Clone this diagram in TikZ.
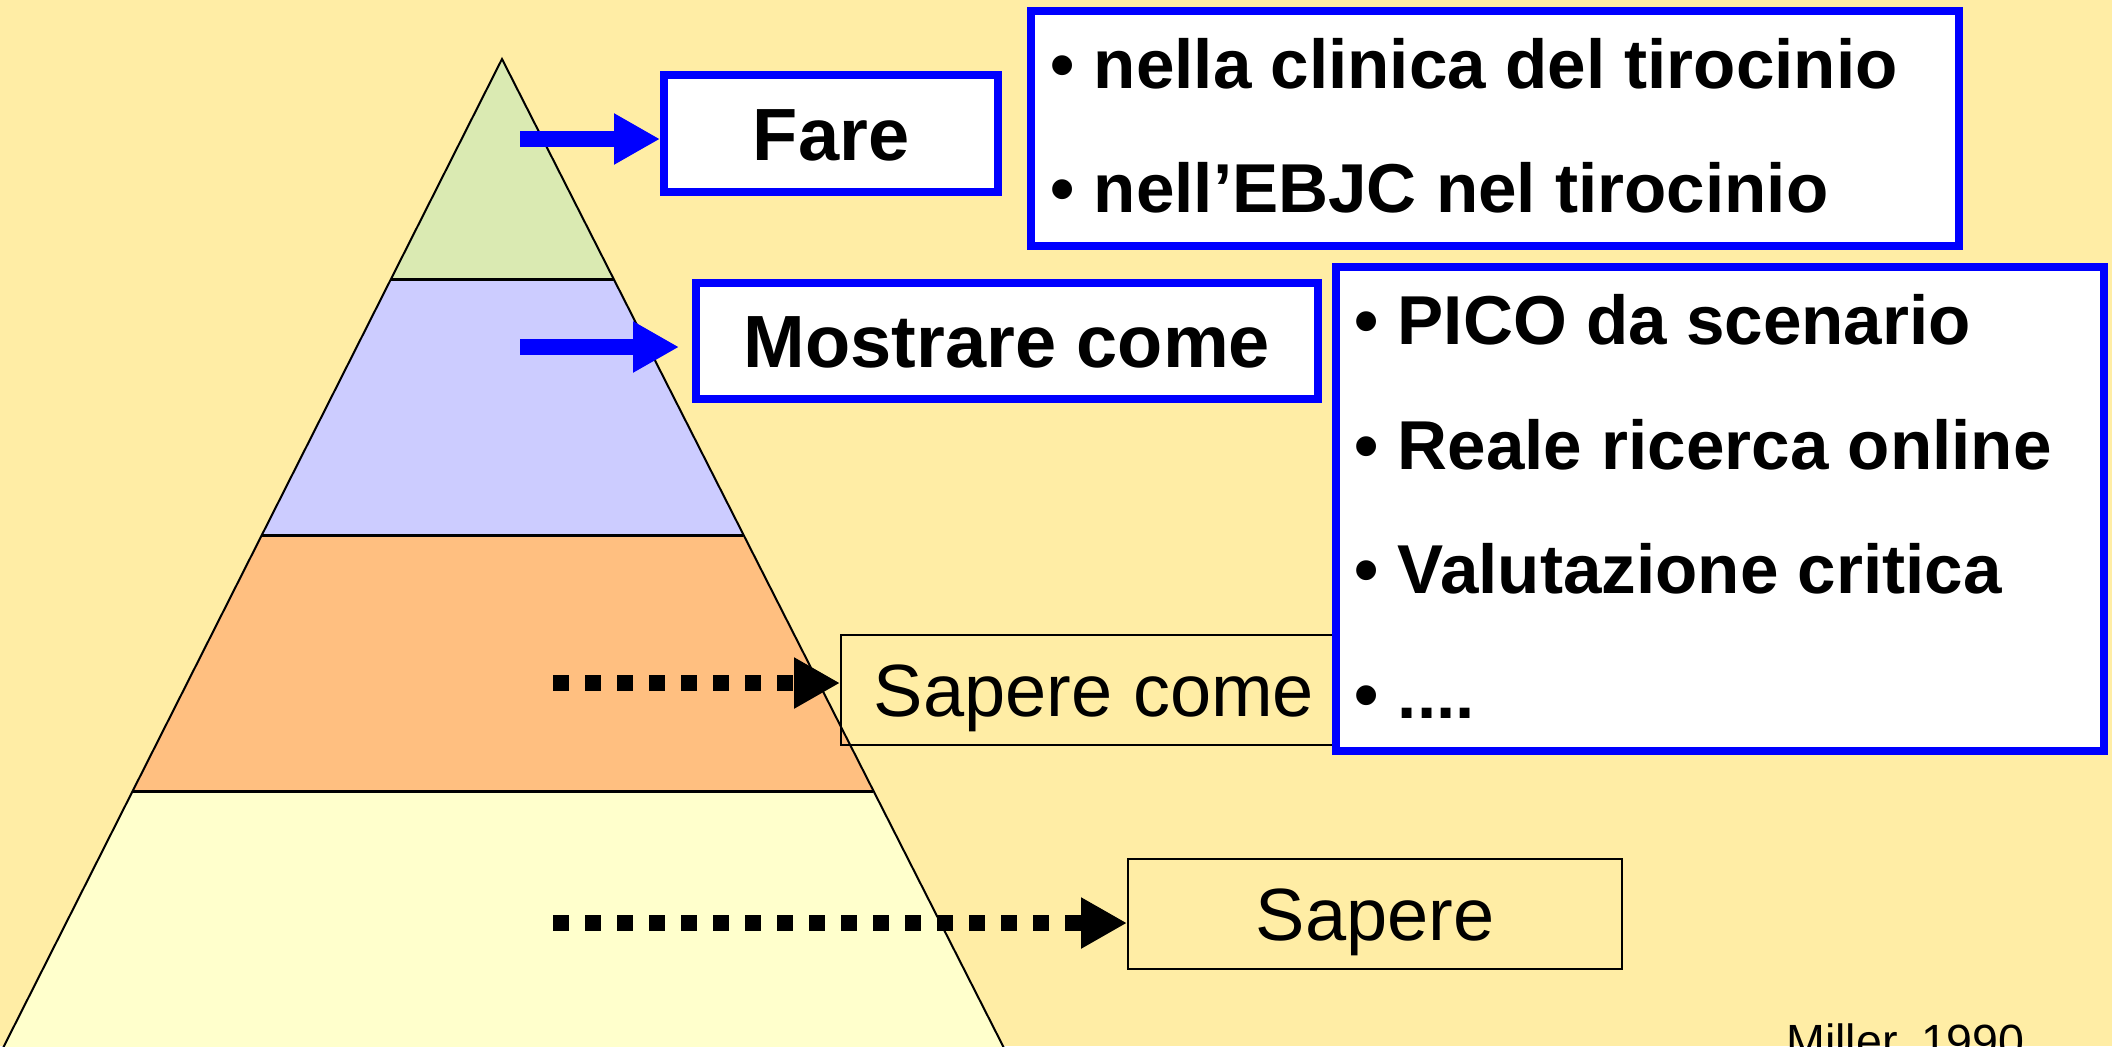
\documentclass[tikz,border=0pt]{standalone}
\usepackage{fontspec}
\setmainfont{Liberation Sans}
\usetikzlibrary{arrows.meta}
\definecolor{bgyellow}{RGB}{255,237,165}
\definecolor{tiergreen}{RGB}{218,234,178}
\definecolor{tierlav}{RGB}{204,204,255}
\definecolor{tierorange}{RGB}{255,191,128}
\definecolor{tieryellow}{RGB}{255,255,204}
\definecolor{boxblue}{RGB}{0,0,255}
\begin{document}
\begin{tikzpicture}[x=0.5pt,y=-0.5pt,
  bluebox/.style={draw=boxblue, line width=4pt, fill=white, inner sep=0pt},
  thinbox/.style={draw=black, line width=1pt, inner sep=0pt},
  lbl/.style={font=\fontsize{37pt}{41pt}\selectfont, text height=26.5pt, text depth=0pt},
  boldlbl/.style={lbl, font=\fontsize{37pt}{41pt}\selectfont\bfseries},
  listtxt/.style={font=\fontsize{34.6pt}{40pt}\selectfont\bfseries, anchor=base west, inner sep=0pt},
  bluearrow/.style={draw=boxblue, line width=8pt, -{Triangle[length=23pt,width=24pt]}},
  dotarrow/.style={draw=black, line width=8pt, dash pattern=on 8pt off 8pt, -{Triangle[length=23pt,width=24pt]}},
  tierline/.style={draw=black, line width=1.5pt},
  outline/.style={draw=black, line width=1pt, line join=miter}
]
\useasboundingbox (0,0) rectangle (2112,1046);
\fill[bgyellow] (0,0) rectangle (2112,1046);

% pyramid tiers
\fill[tiergreen] (502,59) -- (614,279) -- (391,279) -- cycle;
\fill[tierlav] (391,279) -- (614,279) -- (743,535) -- (262,535) -- cycle;
\fill[tierorange] (262,535) -- (743,535) -- (873,791) -- (132,791) -- cycle;
\fill[tieryellow] (132,791) -- (873,791) -- (1005,1050) -- (2,1050) -- cycle;
\draw[tierline] (391,279) -- (614,279);
\draw[tierline] (262,535) -- (743,535);
\draw[tierline] (132,791) -- (873,791);
\draw[outline] (2,1050) -- (502,59) -- (1005,1050);

% boxes
\node[thinbox, lbl, minimum width=253pt, minimum height=55pt] (sc) at (1094,690) {Sapere come};
\node[thinbox, lbl, minimum width=247pt, minimum height=55pt] (sap) at (1375,914) {Sapere};
\node[bluebox, boldlbl, minimum width=167pt, minimum height=58.5pt] (fare) at (831,133.5) {Fare};
\node[bluebox, boldlbl, minimum width=311pt, minimum height=58pt] (most) at (1007,341) {Mostrare come};
\node[bluebox, minimum width=464pt, minimum height=117.5pt] (top) at (1495,128.5) {};
\node[bluebox, minimum width=384pt, minimum height=242pt] (pico) at (1720,509) {};

% list texts
\node[listtxt] (t1) at (1050,88) {• nella clinica del tirocinio};
\node[listtxt] (t2) at (1050,212) {• nell’EBJC nel tirocinio};
\node[listtxt] (p1) at (1354,344) {• PICO da scenario};
\node[listtxt] (p2) at (1354,469) {• Reale ricerca online};
\node[listtxt] (p3) at (1354,593) {• Valutazione critica};
\node[listtxt] (p4) at (1354,718) {• ....};

% arrows
\coordinate (a1s) at (520,139);
\coordinate (a2s) at (520,347);
\coordinate (d1s) at (553,683);
\coordinate (d2s) at (553,923);
\draw[bluearrow] (a1s) -- (a1s -| fare.west);
\draw[bluearrow, shorten >=6.5pt] (a2s) -- (a2s -| most.west);
\draw[dotarrow] (d1s) -- (d1s -| sc.west);
\draw[dotarrow] (d2s) -- (d2s -| sap.west);

% citation
\node[anchor=base west, inner sep=0pt, font=\fontsize{23.3pt}{26pt}\selectfont] (miller) at (1786,1057) {Miller, 1990};
\end{tikzpicture}
\end{document}
